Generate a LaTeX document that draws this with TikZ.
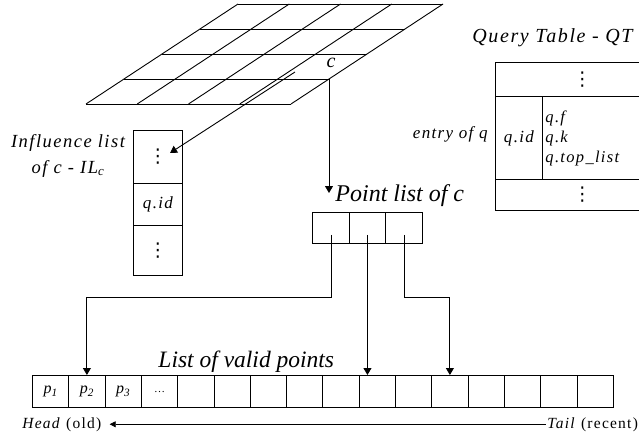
\documentclass[tikz,border=0pt]{standalone}
\usepackage{fontspec}
\setmainfont{Liberation Serif}
\newfontfamily\spaced[LetterSpace=8]{Liberation Serif}
\newfontfamily\dejavu{DejaVu Sans}
\usetikzlibrary{arrows.meta,calc}
\newcommand{\vdts}{{\dejavu\upshape\fontsize{19}{19}\selectfont ⋮}}
\begin{document}
\begin{tikzpicture}[x=1pt,y=-1pt,line width=0.9pt,
  arr/.style={-{Triangle[width=8pt,length=7pt]}},
  larr/.style={{Triangle[width=6pt,length=6pt]}-},
  fs/.style={inner sep=0pt,font=\itshape\fontsize{#1}{20}\selectfont},
  sfs/.style={inner sep=0pt,font=\spaced\itshape\fontsize{#1}{20}\selectfont},
  cellbox/.style={draw,anchor=north west,inner sep=0pt,minimum height=32pt,minimum width=36.3pt,font=\itshape\fontsize{16}{20}\selectfont},
  box/.style={draw,anchor=north west,inner sep=0pt,font=\spaced\itshape\fontsize{17}{20}\selectfont}]
\useasboundingbox (0,0) rectangle (639,436);
\clip (0,0) rectangle (639,436);

% grid
\foreach \i in {0,...,4} \draw ({238-\i*38},{4+\i*25}) -- ++(205,0);
\foreach \j in {0,...,4} \draw ({238+\j*51.25},4) -- ++(-152,100);
\node[fs=20] (clbl) at (331,63) {c};
\coordinate (cc) at (329,79);
\coordinate (cin) at (295,72);

% influence list
\node[sfs=18.5,anchor=base] (il1lbl) at (68,147) {Influence list};
\node[sfs=18.5,anchor=base] (il2lbl) at (68,173) {of c - IL\textsubscript{c}};
\node[box,minimum width=49pt,minimum height=53pt] (il1) at (133,130) {\vdts};
\node[box,minimum width=49pt,minimum height=42pt] (il2) at (133,183) {q.id};
\node[box,minimum width=49pt,minimum height=50pt] (il3) at (133,225) {\vdts};
\coordinate (iltip) at (170,153);
\draw[arr] (cin) -- (iltip);

% point list
\node[box,minimum width=37pt,minimum height=31pt] (pl1) at (312,212) {};
\node[box,minimum width=36pt,minimum height=31pt] (pl2) at (349,212) {};
\node[box,minimum width=37pt,minimum height=31pt] (pl3) at (385,212) {};
\node[fs=24,anchor=base west] (pllbl) at (335,201) {Point list of c};
\coordinate (pltip) at (329,193);
\draw[arr] (cc) -- (pltip);

% query table
\node[sfs=20,anchor=base west] (qtlbl) at (472,43) {Query Table - QT};
\node[box,minimum width=174pt,minimum height=34pt] (qt1) at (495,62) {\vdts};
\node[box,minimum width=47pt,minimum height=83pt] (qt2) at (495,96) {q.id};
\node[box,minimum width=127pt,minimum height=83pt,text width=121pt,align=left,font=\spaced\itshape\fontsize{16.5}{20}\selectfont] (qt3) at (542,96) {q.f\\q.k\\q.top\_list};
\node[box,minimum width=174pt,minimum height=31pt] (qt4) at (495,179) {\vdts};
\node[sfs=17,anchor=base east] (entry) at (488,138) {entry of q};

% list of valid points
\node[fs=23.5,anchor=base west] (lvp) at (158,367) {List of valid points};
\foreach \k/\t in {1/{p\textsubscript{1}},2/{p\textsubscript{2}},3/{p\textsubscript{3}},4/{\raisebox{-3pt}{\fontsize{11}{12}\selectfont\upshape …}},5/{},6/{},7/{},8/{},9/{},10/{},11/{},12/{},13/{},14/{},15/{},16/{}}
  \node[cellbox] (v\k) at ({32+(\k-1)*36.3},375) {\t};

\coordinate (s1) at ($(pl1.center)+(0,7)$);
\coordinate (s2) at ($(pl2.center)+(0,7)$);
\coordinate (s3) at ($(pl3.center)+(0,7)$);
\draw[arr] (s1) -- (s1 |- 0,297) -| (v2.north);
\draw[arr] (s2) -- (s2 |- v10.north);
\draw[arr] (s3) -- (s3 |- 0,297) -| (v12.north);

% head / tail
\node[anchor=base west,inner sep=0pt,font=\spaced\fontsize{15.5}{18}\selectfont] (head) at (22,428) {\textit{Head} (old)};
\node[anchor=base west,inner sep=0pt,font=\spaced\fontsize{15.5}{18}\selectfont] (tail) at (547,428) {\textit{Tail} (recent)};
\draw[larr,line width=0.7pt] ([xshift=8pt]head.east) -- ([xshift=-1pt]tail.west);
\end{tikzpicture}
\end{document}
